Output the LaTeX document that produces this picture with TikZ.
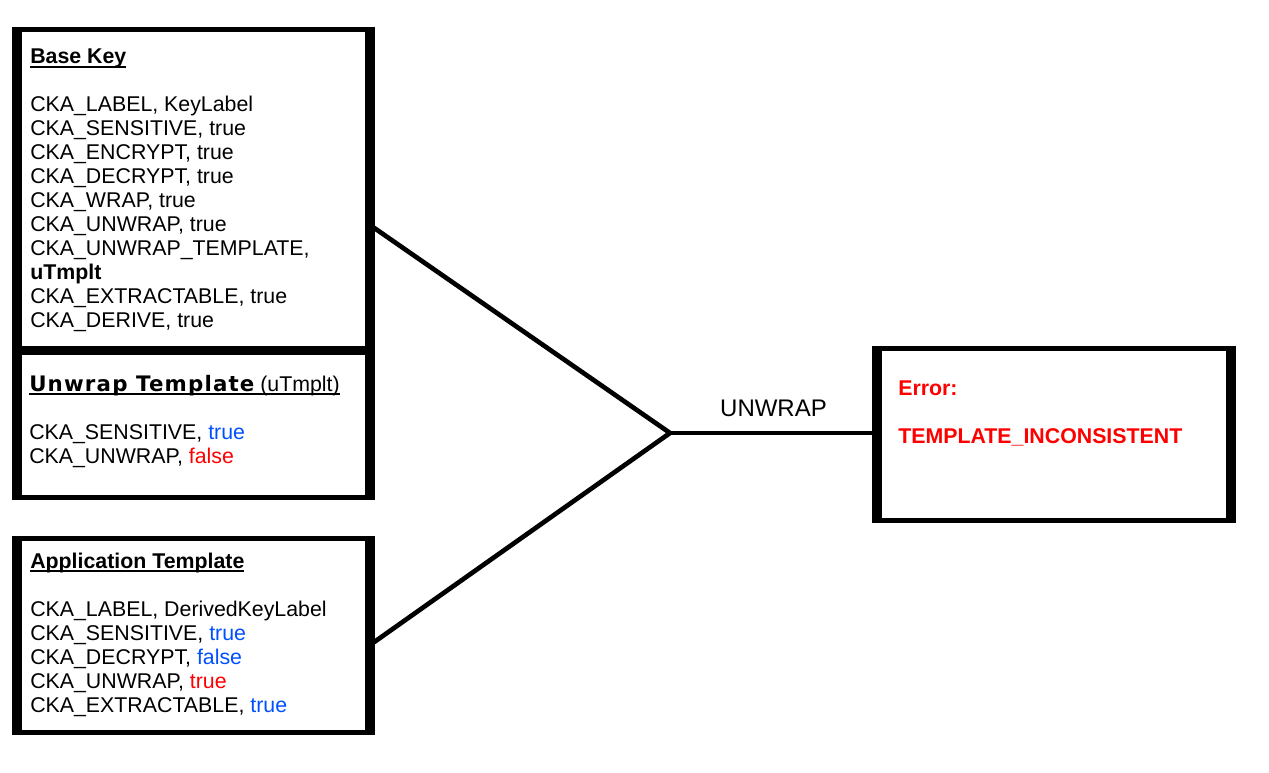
\documentclass[tikz,border=0pt]{standalone}
\usepackage{fontspec}
\setmainfont{Liberation Sans}
\newfontfamily\wideface{DejaVu Sans}
\definecolor{valblue}{RGB}{0,80,255}
\definecolor{valred}{RGB}{255,0,0}
\newcommand{\tval}[1]{\textcolor{valblue}{#1}}
\newcommand{\fval}[1]{\textcolor{valred}{#1}}
\newcommand{\hdline}[1]{\setbox0\hbox{#1}\rlap{\rule[-2.8pt]{\wd0}{1.5pt}}\box0}

\begin{document}
\begin{tikzpicture}[
  x=0.75pt, y=-0.75pt,
  keybox/.style = {draw, line width=3.75pt, outer sep=0pt, inner sep=0pt, minimum width=264.75pt},
  sidebar/.style = {line width=7.5pt, shorten <=-1.875pt, shorten >=-1.875pt},
  boxtext/.style = {anchor=north west, align=left, inner sep=0pt, font=\fontsize{16}{18}\selectfont},
  link/.style = {line width=3.5pt}
  ]
	\useasboundingbox (0,0) rectangle (1269,772);

	% boxes
	\node[keybox, minimum height=239.25pt] (base) at (193.5,188.5) {};
	\node[keybox, minimum height=108.75pt] (unwrap) at (193.5,424.5) {};
	\node[keybox, minimum height=145.5pt] (app) at (193.5,635) {};
	\node[keybox, minimum width=265.5pt, minimum height=129pt] (err) at (1054,434) {};

	\foreach \b in {base,unwrap,app,err} {
		\draw[sidebar] (\b.north west) -- (\b.south west);
		\draw[sidebar] (\b.north east) -- (\b.south east);
	}

	% contents
	\node[boxtext] (basetxt) at (30,49) {\hdline{\textbf{Base Key}}\\[18pt]
		CKA\_LABEL, KeyLabel\\
		CKA\_SENSITIVE, true\\
		CKA\_ENCRYPT, true\\
		CKA\_DECRYPT, true\\
		CKA\_WRAP, true\\
		CKA\_UNWRAP, true\\
		CKA\_UNWRAP\_TEMPLATE,\\
		\textbf{uTmplt}\\
		CKA\_EXTRACTABLE, true\\
		CKA\_DERIVE, true};

	\node[boxtext] (unwraptxt) at (29,375) {\hdline{{\wideface\bfseries\addfontfeature{LetterSpace=5.5}Unwrap Template} (uTmplt)}\\[18pt]
		CKA\_SENSITIVE, \tval{true}\\
		CKA\_UNWRAP, \fval{false}};

	\node[boxtext] (apptxt) at (30,553) {\hdline{\textbf{Application Template}}\\[18pt]
		CKA\_LABEL, DerivedKeyLabel\\
		CKA\_SENSITIVE, \tval{true}\\
		CKA\_DECRYPT, \tval{false}\\
		CKA\_UNWRAP, \fval{true}\\
		CKA\_EXTRACTABLE, \tval{true}};

	\node[boxtext, text=valred, font=\fontsize{16}{18}\selectfont\bfseries] (errtxt) at (898,381) {Error:\\[18pt]
		TEMPLATE\_INCONSISTENT};

	% connectors
	\coordinate (join) at (670,433);
	\draw[link] ([yshift=-27.4pt]base.east) -- (join);
	\draw[link] ([yshift=-7.5pt]app.east) -- (join);
	\draw[link] (join) -- node[above=10.5pt, inner sep=0pt, font=\fontsize{18}{21}\selectfont] (unwraplbl) {UNWRAP} (join -| err.west);

\end{tikzpicture}
\end{document}
